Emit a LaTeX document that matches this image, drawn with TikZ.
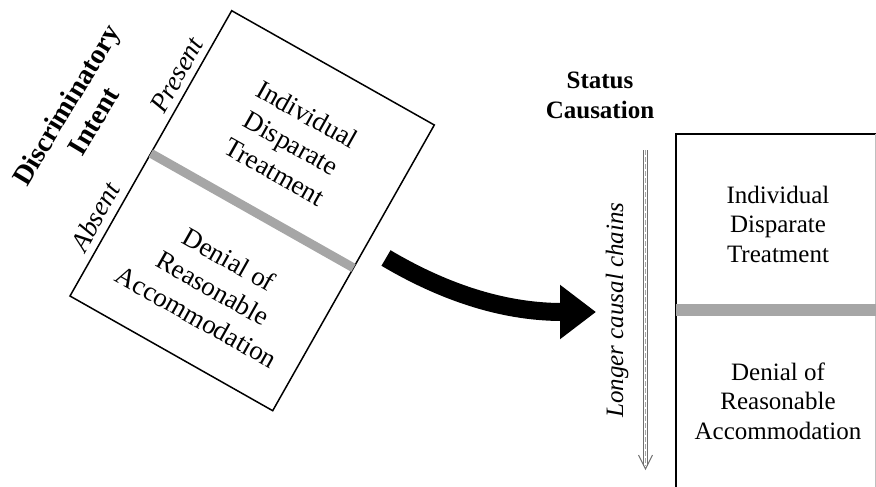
\documentclass[tikz,border=0pt]{standalone}
\usepackage{fontspec}
\setmainfont{Liberation Serif}
\usetikzlibrary{arrows.meta,calc}
\definecolor{divgray}{RGB}{166,166,166}
\definecolor{arrgray}{RGB}{110,110,110}
\begin{document}
\begin{tikzpicture}[x=1pt,y=-1pt,
  boxline/.style={draw=black,line width=1.5pt,line join=miter},
  divider/.style={draw=divgray,line width=9pt},
  ltxt/.style={font=\fontsize{27}{33}\selectfont,align=center,rotate=-29.4,inner sep=0pt},
  rtxt/.style={font=\fontsize{25}{29.5}\selectfont,align=center,inner sep=0pt},
  sidelabel/.style={font=\fontsize{27}{33}\selectfont\itshape,rotate=60.6,inner sep=0pt},
  heading/.style={font=\fontsize{27}{32}\selectfont\bfseries,align=center,inner sep=0pt},
  bigarrow/.style={line width=18pt,-{Triangle[length=36pt,width=52pt]}},
  railline/.style={draw=arrgray,line width=1.3pt},
]
\useasboundingbox (0,0) rectangle (876,487);

% ---------- left (rotated) box ----------
\coordinate (T) at (231.7,10.7);
\coordinate (R) at (434.3,125);
\coordinate (B) at (272.7,410.7);
\coordinate (L) at (70,296);
\draw[boxline] (T) -- (R) -- (B) -- (L) -- cycle;
\draw[divider] ($(T)!0.5!(L)$) -- ($(R)!0.5!(B)$);

\node[ltxt] (lidt) at (291,143) {Individual\\Disparate\\Treatment};
\node[ltxt] (ldra) at (213,288) {Denial of\\Reasonable\\Accommodation};
\node[sidelabel] (present) at (176.7,75) {Present};
\node[sidelabel] (absent) at (95,216.7) {Absent};
\node[heading,rotate=59,font=\fontsize{28}{32}\selectfont\bfseries] (intent) at (79.5,112.8) {Discriminatory\\Intent};

% ---------- big curved arrow ----------
\coordinate (arrs) at (386,258);
\coordinate (arre) at (596,312);
\draw[bigarrow] (arrs) .. controls (440,290) and (500,312) .. (arre);

% ---------- right box ----------
\draw[line width=2pt] (876,134) -- (676,134) -- (676,487);
\draw[black!25,line width=0.8pt] (875.4,134) -- (875.4,487);
\draw[draw=divgray,line width=12pt] (676,310) -- (876,310);
\node[rtxt] (ridt) at (778,224) {Individual\\Disparate\\Treatment};
\node[rtxt] (rdra) at (778,401) {Denial of\\Reasonable\\Accommodation};
\node[heading,font=\fontsize{25}{30}\selectfont\bfseries] (status) at (600,95) {Status\\Causation};

% ---------- dashed double arrow ----------
\coordinate (ds) at (645.5,150);
\coordinate (de) at (645.5,469);
\coordinate (dl) at (645.5,466);
\draw[railline] ([xshift=-2pt]ds) -- ([xshift=-2pt]dl);
\draw[railline] ([xshift=2pt]ds) -- ([xshift=2pt]dl);
\draw[black!35,line width=1pt,dash pattern=on 5pt off 2pt] (ds) -- (dl);
\draw[arrgray,line width=1.1pt] (638.5,455) -- (de) -- (652.5,455);
\node[font=\fontsize{25}{30}\selectfont\itshape,rotate=90,inner sep=0pt] (longer) at (617,310) {Longer causal chains};
\end{tikzpicture}
\end{document}
